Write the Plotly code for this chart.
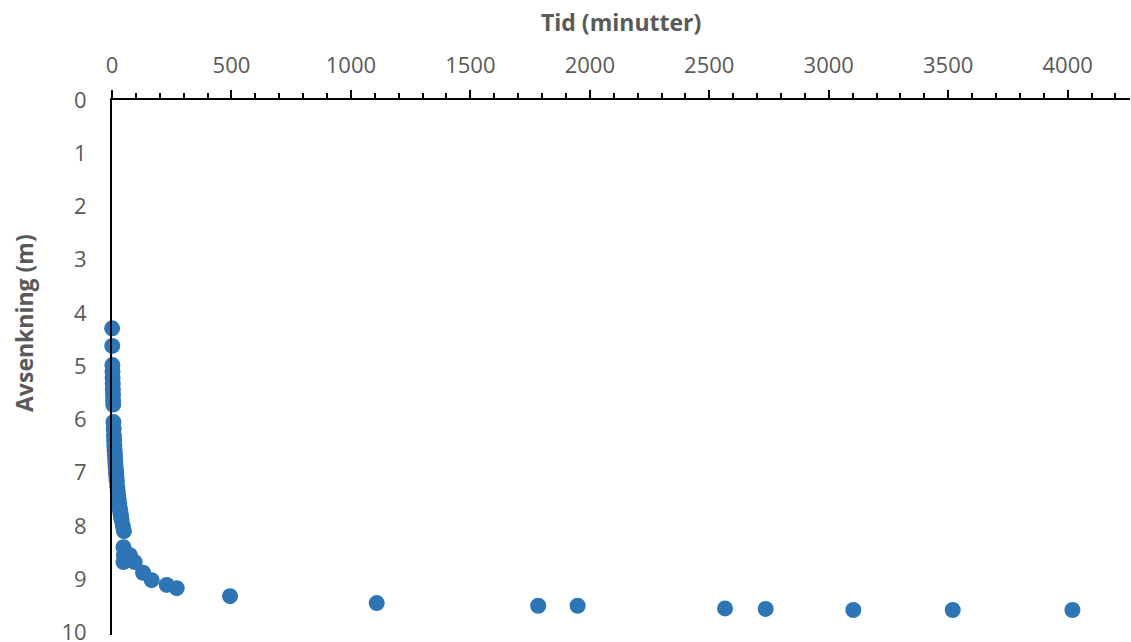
import plotly.graph_objects as go

# Pumping test: time since start (minutes) and drawdown (m)
tid_min = [
    0.5, 1, 1.5, 2, 2.5, 3, 3.5, 4, 4.5, 5,
    6, 7, 8, 9, 10, 11, 12, 13, 14, 15, 16, 17, 18, 19, 20,
    22, 24, 26, 28, 30, 32, 34, 36, 38, 40, 45, 50,
    48, 50, 48, 75, 95, 130, 166, 229, 271,
    494, 1108, 1784, 1949, 2566, 2736, 3103, 3519, 4020,
]
avsenkning_m = [
    4.29, 4.62, 4.98, 5.10, 5.22, 5.33, 5.44, 5.54, 5.64, 5.72,
    6.05, 6.18, 6.30, 6.40, 6.50, 6.58, 6.66, 6.74, 6.81, 6.88, 6.94, 7.00, 7.06, 7.11, 7.16,
    7.26, 7.35, 7.43, 7.51, 7.58, 7.65, 7.71, 7.77, 7.83, 7.88, 8.00, 8.10,
    8.40, 8.55, 8.68, 8.55, 8.68, 8.88, 9.02, 9.11, 9.17,
    9.32, 9.45, 9.50, 9.50, 9.55, 9.56, 9.58, 9.58, 9.58,
]

x_ticks = [0, 500, 1000, 1500, 2000, 2500, 3000, 3500, 4000]
y_ticks = [0, 1, 2, 3, 4, 5, 6, 7, 8, 9, 10]

FONT = "Open Sans"
GREY = "#595959"

fig = go.Figure(
    go.Scatter(
        x=tid_min,
        y=avsenkning_m,
        mode="markers",
        marker=dict(color="#2E75B6", size=16, line=dict(width=0)),
        cliponaxis=False,
        showlegend=False,
    )
)

fig.update_layout(
    width=1131,
    height=642,
    margin=dict(l=112, r=1, t=100, b=7),
    paper_bgcolor="white",
    plot_bgcolor="white",
    font=dict(family=FONT, size=22, color=GREY),
    xaxis=dict(
        side="top",
        range=[0, 4261],
        tickvals=x_ticks,
        ticks="outside",
        ticklen=8,
        tickwidth=2,
        tickcolor="black",
        ticklabelstandoff=8,
        minor=dict(dtick=100, ticks="outside", ticklen=5, tickwidth=1.5, tickcolor="black"),
        showline=True,
        linecolor="black",
        linewidth=2,
        showgrid=False,
        zeroline=False,
        automargin=False,
        tickfont=dict(family=FONT, size=22, color=GREY),
    ),
    yaxis=dict(
        range=[10.05, 0],
        tickvals=y_ticks,
        ticks="",
        ticklabelstandoff=19,
        ticklabeloverflow="allow",
        showline=True,
        linecolor="black",
        linewidth=2,
        showgrid=False,
        zeroline=False,
        automargin=False,
        tickfont=dict(family=FONT, size=22, color=GREY),
    ),
    annotations=[
        dict(
            text="<b>Tid (minutter)</b>",
            xref="paper", yref="paper",
            x=0.5, y=1.145,
            xanchor="center", yanchor="middle",
            showarrow=False,
            font=dict(family=FONT, size=23, color=GREY),
        ),
        dict(
            text="<b>Avsenkning (m)</b>",
            xref="paper", yref="paper",
            x=-0.087, y=0.584,
            xanchor="center", yanchor="middle",
            textangle=-90,
            showarrow=False,
            font=dict(family=FONT, size=23, color=GREY),
        ),
    ],
)

fig.write_html("out.html")
